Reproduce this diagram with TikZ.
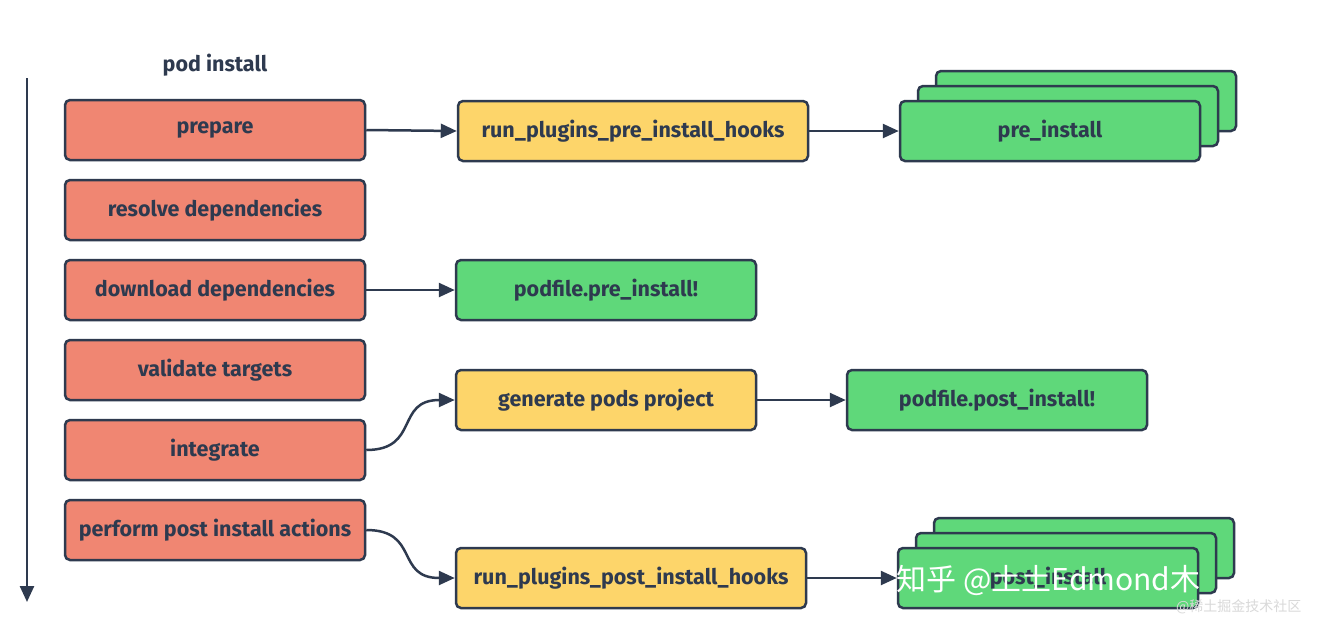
\documentclass[tikz,border=0pt]{standalone}
\usepackage{fontspec}
\setmainfont{Fira Sans}
\newfontfamily\cjk{Noto Sans CJK SC}
\usetikzlibrary{arrows.meta}
\definecolor{rd}{HTML}{F08672}
\definecolor{yl}{HTML}{FDD56A}
\definecolor{gr}{HTML}{5FD87A}
\definecolor{ink}{HTML}{2E3A4F}
\begin{document}
\begin{tikzpicture}[x=1pt,y=-1pt,
 box/.style={draw=ink,line width=2.5pt,rounded corners=5pt,minimum width=300pt,minimum height=60pt,font=\bfseries\fontsize{21.5}{24}\selectfont,text=ink,inner sep=0pt},
 red/.style={box,fill=rd}, yel/.style={box,fill=yl}, grn/.style={box,fill=gr},
 arr/.style={draw=ink,line width=2.5pt,-{Triangle[length=16pt,width=14pt]}}]
\useasboundingbox[fill=white] (0,0) rectangle (1323,638);
\node[font=\bfseries\fontsize{21.5}{24}\selectfont,text=ink] (t) at (215,65) {pod install};
\coordinate (vs) at (27,78); \coordinate (ve) at (27,602);
\draw[arr] (vs) -- (ve);
\node[red] (p1) at (215,130) {prepare};
\node[red] (p2) at (215,210) {resolve dependencies};
\node[red] (p3) at (215,290) {download dependencies};
\node[red] (p4) at (215,370) {validate targets};
\node[red] (p5) at (215,450) {integrate};
\node[red] (p6) at (215,530) {perform post install actions};
\node[yel,minimum width=350pt] (y1) at (633,131) {run\_plugins\_pre\_install\_hooks};
\node[yel] (y2) at (606,400) {generate pods project};
\node[yel,minimum width=350pt] (y3) at (631,578) {run\_plugins\_post\_install\_hooks};
\node[grn] (g1c) at (1086,101) {};
\node[grn] (g1b) at (1068,116) {};
\node[grn] (g1) at (1050,131) {pre\_install};
\node[grn] (g2) at (606,290) {podfile.pre\_install!};
\node[grn] (g3) at (997,400) {podfile.post\_install!};
\node[grn] (g4c) at (1084,548) {};
\node[grn] (g4b) at (1066,563) {};
\node[grn] (g4) at (1048,578) {post\_install};
\draw[arr] (p1.east) -- (y1.west);
\draw[arr] (y1.east) -- (g1.west);
\draw[arr] (p3.east) -- (g2.west);
\draw[arr] (p5.east) .. controls (420,450) and (395,400) .. (y2.west);
\draw[arr] (y2.east) -- (g3.west);
\draw[arr] (p6.east) .. controls (420,530) and (395,578) .. (y3.west);
\draw[arr] (y3.east) -- (g4.west);
\node[font=\cjk\fontsize{30}{32}\selectfont,text=white,anchor=west] (w1) at (893,580) {知乎 @土土Edmond木};
\node[font=\cjk\fontsize{14}{16}\selectfont,text=white!85!black,anchor=east] (w2) at (1305,607) {@稀土掘金技术社区};
\end{tikzpicture}
\end{document}
